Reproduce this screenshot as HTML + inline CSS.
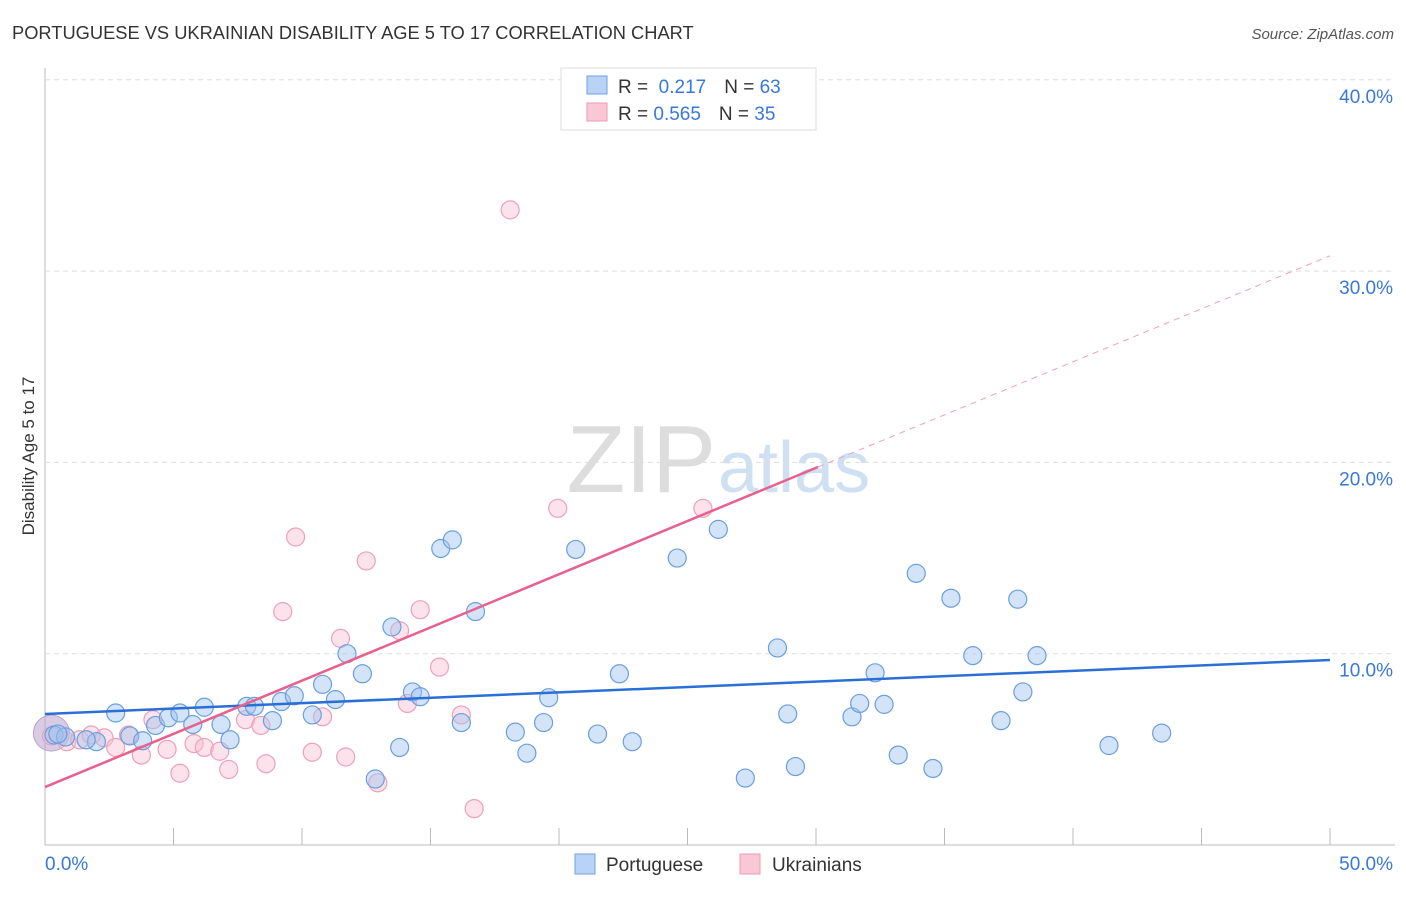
<!DOCTYPE html>
<html><head><meta charset="utf-8"><style>
body{margin:0;background:#fff;font-family:"Liberation Sans",sans-serif}
svg text{font-family:"Liberation Sans",sans-serif}
</style></head><body>
<svg id="c" width="1406" height="892">
<text x="12" y="39" font-size="18.3" fill="#333">PORTUGUESE VS UKRAINIAN DISABILITY AGE 5 TO 17 CORRELATION CHART</text>
<text x="1394" y="39" font-size="15" fill="#555" font-style="italic" text-anchor="end">Source: ZipAtlas.com</text>
<text x="34" y="456" font-size="17" fill="#333" text-anchor="middle" transform="rotate(-90 34 456)">Disability Age 5 to 17</text>
<text x="716" y="492" font-size="96" fill="#ddd" text-anchor="end" font-family="Liberation Serif">ZIP</text>
<text x="718" y="492" font-size="72" fill="#cfe0f3">atlas</text>
<g id="grid"></g><g id="marks"></g>
<g>
<rect x="561" y="68" width="255" height="62" fill="#fff" stroke="#ddd"/>
<rect x="587" y="76" width="20" height="18" fill="#b8d3f5" stroke="#6fa0e0"/>
<rect x="587" y="103" width="20" height="18" fill="#fac7d6" stroke="#ec9ab5"/>
<text x="618" y="93" font-size="19" fill="#333">R = <tspan fill="#3a78d8">&#160;0.217</tspan><tspan dx="18" fill="#333">N = </tspan><tspan fill="#3a78d8">63</tspan></text>
<text x="618" y="120" font-size="19" fill="#333">R = <tspan fill="#3a78d8">0.565</tspan><tspan dx="18" fill="#333">N = </tspan><tspan fill="#3a78d8">35</tspan></text>
</g>
<g>
<rect x="575" y="854" width="20" height="20" fill="#b8d3f5" stroke="#6fa0e0"/>
<text x="606" y="871" font-size="19" fill="#333">Portuguese</text>
<rect x="740" y="854" width="20" height="20" fill="#fac7d6" stroke="#ec9ab5"/>
<text x="772" y="871" font-size="19" fill="#333">Ukrainians</text>
</g>
</svg>
<script>
const yTicks=[10,20,30,40];
const xTickLabels=["0.0%","50.0%"];
const bluePts=[[0.35,5.75],[2.0,5.4],[2.75,6.9],[3.3,5.7],[3.8,5.45],[4.3,6.25],[4.8,6.65],[5.25,6.9],[5.75,6.3],[6.2,7.2],[6.85,6.3],[7.2,5.5],[7.85,7.25],[8.15,7.25],[8.85,6.5],[9.2,7.5],[9.7,7.8],[10.4,6.8],[10.8,8.4],[11.3,7.6],[11.75,10.0],[12.35,8.95],[12.85,3.45],[13.5,11.4],[13.8,5.1],[14.3,8.0],[14.6,7.75],[15.4,15.5],[15.85,15.95],[16.2,6.4],[16.75,12.2],[18.3,5.9],[18.75,4.8],[19.4,6.4],[19.6,7.7],[20.65,15.45],[21.5,5.8],[22.35,8.95],[22.85,5.4],[24.6,15.0],[26.2,16.5],[27.25,3.5],[28.5,10.3],[28.9,6.85],[29.2,4.1],[31.4,6.7],[31.7,7.4],[32.3,9.0],[32.65,7.35],[33.2,4.7],[33.9,14.2],[34.55,4.0],[35.25,12.9],[36.1,9.9],[37.2,6.5],[37.85,12.85],[38.05,8.0],[38.6,9.9],[41.4,5.2],[43.45,5.85],[0.8,5.65],[1.6,5.5],[0.5,5.8]];
const pinkPts=[[0.25,5.7],[0.85,5.4],[1.35,5.5],[1.8,5.75],[2.3,5.6],[2.75,5.1],[3.25,5.75],[3.75,4.7],[4.2,6.55],[4.75,5.0],[5.25,3.75],[5.8,5.3],[6.2,5.1],[6.8,4.9],[7.15,3.95],[7.8,6.55],[8.4,6.25],[8.6,4.25],[9.25,12.2],[9.75,16.1],[10.4,4.85],[10.8,6.7],[11.5,10.8],[11.7,4.6],[12.5,14.85],[12.95,3.25],[13.8,11.2],[14.1,7.4],[14.6,12.3],[15.35,9.3],[16.2,6.8],[16.7,1.9],[18.1,33.2],[19.95,17.6],[25.6,17.6]];
const blueLine=[[0,6.85],[50,9.67]];
const pinkLine=[[0,3.03],[30.08,19.76]];
const pinkDash=[[30.08,19.76],[50,30.8]];
const X=v=>45+v/50*1285, Y=v=>845-v*19.13;
const NS="http://www.w3.org/2000/svg";
function mk(t,a,p){const e=document.createElementNS(NS,t);for(const k in a)e.setAttribute(k,a[k]);p.appendChild(e);return e;}
const g=document.getElementById('grid'),m=document.getElementById('marks');
mk('line',{x1:45,y1:68,x2:45,y2:845,stroke:'#bbb'},g);
mk('line',{x1:45,y1:845,x2:1395,y2:845,stroke:'#bbb'},g);
for(let i=1;i<=10;i++){const t=mk('line',{x1:X(i*5),y1:828,x2:X(i*5),y2:845,stroke:'#bbb'},g);

}
yTicks.forEach(v=>{const l=mk('line',{x1:45,y1:Y(v),x2:1395,y2:Y(v),stroke:'#ddd','stroke-dasharray':'5,4'},g);


const t=mk('text',{x:1393,y:Y(v)+23,'font-size':19,fill:'#3a78d8','text-anchor':'end'},g);t.textContent=v.toFixed(1)+'%';

});
xTickLabels.forEach((s,i)=>{const t=mk('text',{x:i?1393:45,y:870,'font-size':19,fill:'#3a78d8','text-anchor':i?'end':'start'},g);t.textContent=s;

});
const big=mk('circle',{cx:X(0.25),cy:Y(5.85),r:18,fill:'rgba(190,170,210,0.6)',stroke:'#c0a0c8'},m);


pinkPts.forEach(p=>{const c=mk('circle',{cx:X(p[0]),cy:Y(p[1]),r:9,fill:'rgba(248,190,208,0.45)',stroke:'#eea0ba','stroke-width':1.2},m);

});
bluePts.forEach(p=>{const c=mk('circle',{cx:X(p[0]),cy:Y(p[1]),r:9,fill:'rgba(160,195,240,0.45)',stroke:'#6a9ee0','stroke-width':1.2},m);

});
const bl=mk('line',{x1:X(blueLine[0][0]),y1:Y(blueLine[0][1]),x2:X(blueLine[1][0]),y2:Y(blueLine[1][1]),stroke:'#2a6fd6','stroke-width':2.5},m);


const pl=mk('line',{x1:X(pinkLine[0][0]),y1:Y(pinkLine[0][1]),x2:X(pinkLine[1][0]),y2:Y(pinkLine[1][1]),stroke:'#e8608c','stroke-width':2.5},m);


const pd=mk('line',{x1:X(pinkDash[0][0]),y1:Y(pinkDash[0][1]),x2:X(pinkDash[1][0]),y2:Y(pinkDash[1][1]),stroke:'#eea0ba','stroke-width':1,'stroke-dasharray':'6,5'},m);


</script>
</body></html>
